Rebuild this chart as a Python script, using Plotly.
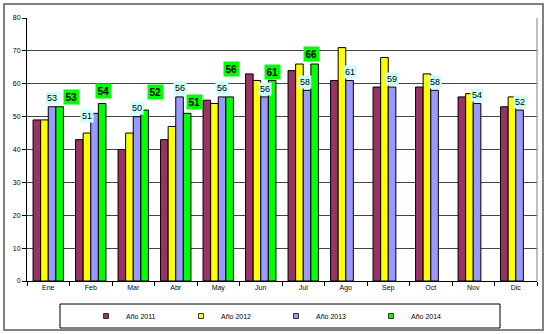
import plotly.graph_objects as go

# Monthly values per year
months = ["Ene", "Feb", "Mar", "Abr", "May", "Jun", "Jul", "Ago", "Sep", "Oct", "Nov", "Dic"]
years = ["Año 2011", "Año 2012", "Año 2013", "Año 2014"]
v2011 = [49, 43, 40, 43, 55, 63, 64, 61, 59, 59, 56, 53]
v2012 = [49, 45, 45, 47, 54, 61, 66, 71, 68, 63, 57, 56]
v2013 = [53, 51, 50, 56, 56, 56, 58, 61, 59, 58, 54, 52]
v2014 = [53, 54, 52, 51, 56, 61, 66, None, None, None, None, None]
y_ticks = [0, 10, 20, 30, 40, 50, 60, 70, 80]

colors = ["#993366", "#FFFF00", "#9999FF", "#00FF00"]
series = [v2011, v2012, v2013, v2014]

# label nudges (px) for the value boxes of 2013 and 2014
dx2013 = [0, -8, 0, 0, 0, 0, -2, 0, 0, 0, 0, 0]
dy2013 = [9, -3, 8.5, 9, 8.5, 8, 8.5, 8.5, 8, 8, 8.5, 8]
dx2014 = [12, 1, 10.5, 7.5, 2, 0, -3]
dy2014 = [10, 12.5, 18.5, 11.5, 28, 8.5, 10]

W, H = 550, 334
ML, MR, MT, MB = 27, 13, 18, 53
BARGAP = 0.285
plot_w = W - ML - MR
slot = plot_w / len(months) * (1 - BARGAP) / len(years)

FONT = "Liberation Sans, Arial, sans-serif"

fig = go.Figure()
for name, vals, col in zip(years, series, colors):
    fig.add_trace(go.Bar(
        x=months, y=vals, name=name, showlegend=False,
        marker=dict(color=col, line=dict(color="#000000", width=1)),
        hoverinfo="x+y+name",
    ))
# small square legend keys
for name, col in zip(years, colors):
    fig.add_trace(go.Scatter(
        x=[None], y=[None], mode="markers", name=name,
        marker=dict(symbol="square", size=5, color=col,
                    line=dict(color="#333333", width=1)),
    ))

annotations = []
for i, m in enumerate(months):
    v = v2013[i]
    annotations.append(dict(
        x=m, y=v, xref="x", yref="y", text=str(v), showarrow=False,
        xshift=0.5 * slot + dx2013[i], yshift=dy2013[i], yanchor="middle",
        font=dict(family=FONT, size=9, color="#000000"),
        bgcolor="#CCFFFF", borderpad=1,
    ))
for i, m in enumerate(months):
    v = v2014[i]
    if v is None:
        continue
    annotations.append(dict(
        x=m, y=v, xref="x", yref="y", text="<b>%d</b>" % v, showarrow=False,
        xshift=1.5 * slot + dx2014[i], yshift=dy2014[i], yanchor="middle",
        font=dict(family=FONT, size=10, color="#000000"),
        bgcolor="#00FF00", borderpad=1.5,
    ))

def px_x(p):
    return (p - ML) / plot_w

def px_y(p):
    return (H - MB - p) / (H - MT - MB)

shapes = [
    # legend box
    dict(type="rect", xref="paper", yref="paper",
         x0=px_x(60), x1=px_x(500), y0=px_y(328), y1=px_y(304),
         line=dict(color="#000000", width=1), fillcolor="rgba(0,0,0,0)"),
    # outer chart frame
    dict(type="rect", xref="paper", yref="paper",
         x0=px_x(4), x1=px_x(543), y0=px_y(330), y1=px_y(4),
         line=dict(color="#808080", width=2), fillcolor="rgba(0,0,0,0)"),
    # right edge of plot area
    dict(type="line", xref="paper", yref="paper", x0=1, x1=1, y0=0, y1=1,
         line=dict(color="#808080", width=1)),
]

fig.update_layout(
    width=W, height=H,
    margin=dict(l=ML, r=MR, t=MT, b=MB, autoexpand=False),
    paper_bgcolor="#FFFFFF", plot_bgcolor="#FFFFFF",
    barmode="group", bargap=BARGAP, bargroupgap=0,
    font=dict(family=FONT, size=7, color="#000000"),
    showlegend=True,
    legend=dict(orientation="h", xref="container", yref="container",
                x=86 / W, xanchor="left",
                y=(H - 316) / H, yanchor="middle",
                font=dict(family=FONT, size=7, color="#000000"),
                entrywidth=50, itemwidth=30, tracegroupgap=0,
                bgcolor="rgba(0,0,0,0)"),
    annotations=annotations,
    shapes=shapes,
)
fig.update_xaxes(
    type="category", categoryorder="array", categoryarray=months,
    showline=True, linecolor="#000000", linewidth=1,
    ticks="outside", ticklen=4, tickcolor="#000000", tickson="boundaries",
    showgrid=False, tickfont=dict(family=FONT, size=7),
)
fig.update_yaxes(
    range=[0, 80], tickvals=y_ticks,
    showline=True, linecolor="#000000", linewidth=1,
    ticks="outside", ticklen=4, tickcolor="#000000",
    showgrid=True, gridcolor="#444444", gridwidth=1,
    zeroline=False, tickfont=dict(family=FONT, size=7),
)

fig.write_html("out.html")
